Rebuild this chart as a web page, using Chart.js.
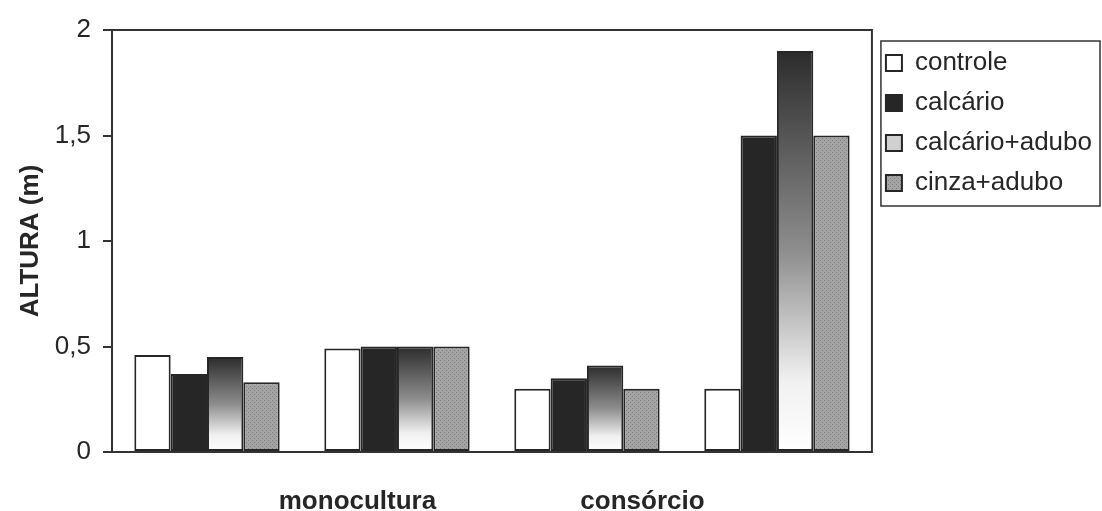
<!DOCTYPE html>
<html>
<head>
<meta charset="utf-8">
<script src="https://cdn.jsdelivr.net/npm/chart.js@4"></script>
<style>
  html, body { margin: 0; padding: 0; background: #fff; }
  #wrap { width: 1102px; height: 511px; }
</style>
</head>
<body>
<div id="wrap"><canvas id="chart"></canvas></div>
<script>
// Data
const barGroups = ['1', '2', '3', '4'];
// the two group names sit on a finer label row under the bars
const groupTickLabels = ['', '', 'monocultura', '', '', 'consórcio', '', ''];
const yTicks = [0, 0.5, 1, 1.5, 2];

const controle = [0.46, 0.49, 0.30, 0.30];
const calcario = [0.37, 0.50, 0.35, 1.50];
const calcarioAdubo = [0.45, 0.50, 0.41, 1.90];
const cinzaAdubo = [0.33, 0.50, 0.30, 1.50];

const FONT = "'Liberation Sans', Arial, sans-serif";
const INK = '#262626';

// stipple pattern for cinza+adubo
const pc = document.createElement('canvas');
pc.width = 4; pc.height = 4;
const pctx = pc.getContext('2d');
pctx.fillStyle = '#a4a4a4';
pctx.fillRect(0, 0, 4, 4);
pctx.fillStyle = '#7c7c7c';
pctx.fillRect(0, 0, 1, 1);
pctx.fillRect(2, 2, 1, 1);
const stipple = pctx.createPattern(pc, 'repeat');

// dark-to-white fade for calcário+adubo, one per bar
function fadeFill(ctx) {
    if (ctx.type !== 'data') return '#d4d4d4';
    const chart = ctx.chart;
    const y = chart.scales.y;
    if (!y) return '#888';
    const top = y.getPixelForValue(ctx.raw);
    const base = y.getPixelForValue(0);
    if (!isFinite(top) || !isFinite(base) || top === base) return '#888';
    const g = chart.ctx.createLinearGradient(0, top, 0, base);
    g.addColorStop(0, '#2c2c2c');
    g.addColorStop(0.5, '#8e8e8e');
    g.addColorStop(0.82, '#f0f0f0');
    g.addColorStop(1, '#ffffff');
    return g;
}

// box around plot area and legend
const frames = {
    id: 'frames',
    afterDraw(chart) {
        const { ctx, chartArea, legend } = chart;
        ctx.save();
        ctx.strokeStyle = '#333';
        ctx.lineWidth = 2;
        ctx.strokeRect(chartArea.left, chartArea.top, chartArea.right - chartArea.left, chartArea.bottom - chartArea.top);
        const hb = legend.legendHitBoxes;
        if (hb && hb.length) {
            const first = hb[0], last = hb[hb.length - 1];
            const x0 = first.left - 5;
            const y0 = first.top + first.height / 2 - 22;
            const y1 = last.top + last.height / 2 + 23;
            ctx.lineWidth = 1.5;
            ctx.strokeRect(x0, y0, chart.width - 2 - x0, y1 - y0);
        }
        ctx.restore();
    }
};

const common = { borderColor: INK, borderWidth: 2, borderSkipped: false, barPercentage: 1.0, categoryPercentage: 0.765 };

new Chart(document.getElementById('chart'), {
    type: 'bar',
    data: {
        labels: barGroups,
        datasets: [
            { label: 'controle', data: controle, backgroundColor: '#ffffff', ...common },
            { label: 'calcário', data: calcario, backgroundColor: '#262626', ...common },
            { label: 'calcário+adubo', data: calcarioAdubo, backgroundColor: fadeFill, ...common },
            { label: 'cinza+adubo', data: cinzaAdubo, backgroundColor: stipple, ...common }
        ]
    },
    options: {
        responsive: true,
        maintainAspectRatio: false,
        animation: false,
        layout: { padding: { top: 30, left: 0, right: 0, bottom: 0 } },
        plugins: {
            tooltip: { enabled: false },
            legend: {
                position: 'right',
                align: 'start',
                title: { display: true, text: '', font: { size: 5 }, padding: 0 },
                labels: {
                    color: INK,
                    font: { family: FONT, size: 26 },
                    boxWidth: 16,
                    boxHeight: 16,
                    padding: 14,
                    generateLabels: chart => {
                        const items = Chart.defaults.plugins.legend.labels.generateLabels(chart);
                        // legend swatch of the faded series: light grey
                        items[2].fillStyle = '#d0d0d0';
                        return items;
                    }
                }
            }
        },
        scales: {
            x: {
                type: 'category',
                ticks: { display: false },
                grid: { display: false },
                border: { color: '#333', width: 2 },
                afterFit: s => { s.height = 0; }
            },
            x2: {
                type: 'category',
                labels: groupTickLabels,
                position: 'bottom',
                weight: 1,
                afterFit: s => { s.height = 59; },
                ticks: {
                    padding: 26,
                    labelOffset: 8,
                    autoSkip: false,
                    maxRotation: 0,
                    color: INK,
                    font: { family: FONT, size: 26, weight: 'bold' }
                },
                grid: { display: false },
                border: { display: false }
            },
            y: {
                min: 0,
                max: 2,
                afterBuildTicks: s => { s.ticks = yTicks.map(v => ({ value: v })); },
                afterFit: s => { s.width = 112; },
                ticks: {
                    padding: 12,
                    color: INK,
                    font: { family: FONT, size: 26 },
                    callback: v => String(v).replace('.', ',')
                },
                grid: { drawOnChartArea: false, tickLength: 9, color: '#333', lineWidth: 2 },
                border: { color: '#333', width: 2 },
                title: {
                    display: true,
                    text: 'ALTURA (m)',
                    color: INK,
                    font: { family: FONT, size: 26, weight: 'bold' },
                    padding: { top: 15, bottom: 4 }
                }
            }
        }
    },
    plugins: [frames]
});
</script>
</body>
</html>
